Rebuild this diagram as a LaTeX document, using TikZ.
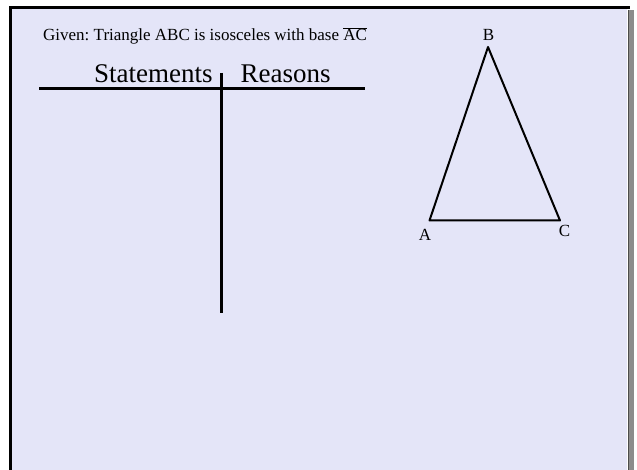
\documentclass[tikz,border=0pt]{standalone}
\usepackage{fontspec}
\setmainfont{Liberation Serif}
\frenchspacing
\definecolor{bgfill}{RGB}{228,229,248}
\definecolor{shadowgray}{RGB}{140,140,140}
\begin{document}
\begin{tikzpicture}[x=1pt,y=-1pt,
  tline/.style={line width=3pt},
  triline/.style={line width=2pt, line join=round},
  lbl/.style={font=\fontsize{17}{20}\selectfont, inner sep=0pt},
  head/.style={font=\fontsize{27}{30}\selectfont, inner sep=0pt, anchor=base west}]
\useasboundingbox (0,0) rectangle (637,470);
% panel
\fill[bgfill] (10.5,8) rectangle (627,475);
\fill[shadowgray] (629,10) rectangle (634,475);
\draw[line width=1pt, black!70] (628.5,10) -- (628.5,475);
\draw[line width=3pt] (10.5,475) -- (10.5,8) -- (630,8);
% texts
\node[lbl, anchor=base west] (given) at (43,41) {Given: Triangle ABC is isosceles with base $\overline{\hbox{AC}}$};
\node[head] (st) at (94,83) {Statements};
\node[head] (re) at (240.5,83) {Reasons};
% T chart
\coordinate (hl) at (39,89);
\coordinate (hr) at (365,89);
\coordinate (vt) at (221,73);
\coordinate (vb) at (221,313);
\draw[tline] (hl) -- (hr);
\draw[tline] (vt) -- (vb);
% triangle
\coordinate (A) at (429.5,220.5);
\coordinate (B) at (488,47);
\coordinate (C) at (560,220.5);
\draw[triline] (A) -- (B) -- (C) -- cycle;
\node[lbl, anchor=base] (lB) at (488.5,41) {B};
\node[lbl, anchor=base] (lA) at (425,241) {A};
\node[lbl, anchor=base] (lC) at (564.5,237) {C};
\end{tikzpicture}
\end{document}
